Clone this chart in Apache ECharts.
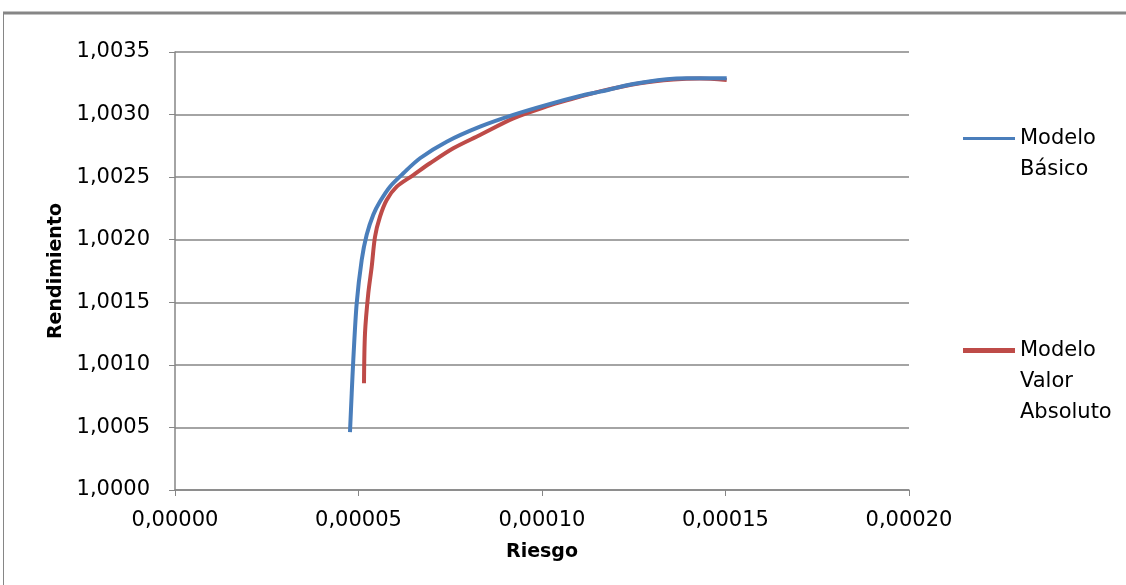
<!DOCTYPE html>
<html>
<head>
<meta charset="utf-8">
<script src="https://cdn.jsdelivr.net/npm/echarts@6/dist/echarts.min.js"></script>
<style>
html,body{margin:0;padding:0;background:#fff;}
#chart{width:1126px;height:585px;}
</style>
</head>
<body>
<div id="chart"></div>
<script>
// Riesgo (x) values and Rendimiento (y) values
const basicoRiesgo = [0.00004768, 0.00004815, 0.00004858, 0.00004951, 0.00005087, 0.00005223, 0.00005403, 0.00005586, 0.00005858, 0.00006221, 0.00006676, 0.00007403, 0.00008311, 0.00009218, 0.00010128, 0.00011035, 0.00011580, 0.00012488, 0.00013398, 0.00013943, 0.00015033];
const basicoRend   = [1.000463, 1.000773, 1.001039, 1.001492, 1.001838, 1.002040, 1.002200, 1.002305, 1.002424, 1.002531, 1.002651, 1.002783, 1.002903, 1.002997, 1.003077, 1.003148, 1.003183, 1.003244, 1.003282, 1.003290, 1.003290];
const absolutoRiesgo = [0.00005150, 0.00005177, 0.00005267, 0.00005360, 0.00005450, 0.00005586, 0.00005768, 0.00006041, 0.00006493, 0.00006948, 0.00007583, 0.00008311, 0.00009218, 0.00010128, 0.00010673, 0.00011580, 0.00012670, 0.00013578, 0.00014305, 0.00015033];
const absolutoRend   = [1.000853, 1.001252, 1.001572, 1.001784, 1.002024, 1.002184, 1.002317, 1.002424, 1.002517, 1.002611, 1.002731, 1.002837, 1.002970, 1.003065, 1.003113, 1.003185, 1.003250, 1.003280, 1.003288, 1.003276];
const seriesNames = ['Modelo\nBásico', 'Modelo\nValor\nAbsoluto'];
const xTicks = {min: 0, max: 0.0002, interval: 0.00005};
const yTicks = {min: 1.0000, max: 1.0035, interval: 0.0005};

function zip(a, b) { return a.map((v, i) => [v, b[i]]); }

const chart = echarts.init(document.getElementById('chart'), null, {renderer: 'canvas'});
const font = 'DejaVu Sans';
const legendText = {fontFamily: font, fontSize: 21, color: '#000', lineHeight: 31};
chart.setOption({
  animation: false,
  backgroundColor: '#ffffff',
  graphic: [
    {type: 'line', shape: {x1: 3, y1: 13, x2: 1126, y2: 13}, style: {stroke: '#868686', lineWidth: 3}},
    {type: 'line', shape: {x1: 3.5, y1: 13, x2: 3.5, y2: 585}, style: {stroke: '#868686', lineWidth: 1}}
  ],
  grid: {left: 175, right: 217, top: 52, bottom: 95},
  legend: [
    {
      data: [seriesNames[0]], left: 963, top: 92, orient: 'vertical', padding: 0,
      itemWidth: 52, itemHeight: 28, itemGap: 5,
      icon: 'path://M0,0 L52,0 L52,3 L0,3 Z',
      formatter: name => ' \n' + name,
      textStyle: legendText
    },
    {
      data: [seriesNames[1]], left: 963, top: 273, orient: 'vertical', padding: 0,
      itemWidth: 52, itemHeight: 28, itemGap: 5,
      icon: 'path://M0,0 L52,0 L52,5 L0,5 Z',
      formatter: name => ' \n \n' + name,
      textStyle: legendText
    }
  ],
  xAxis: {
    type: 'value', min: xTicks.min, max: xTicks.max, interval: xTicks.interval,
    name: 'Riesgo', nameLocation: 'middle', nameGap: 53,
    nameTextStyle: {fontFamily: font, fontSize: 19, fontWeight: 'bold', color: '#000'},
    axisLine: {show: true, lineStyle: {color: '#868686', width: 1.5}},
    axisTick: {show: true, length: 6, lineStyle: {color: '#868686'}},
    splitLine: {show: false},
    axisLabel: {
      fontFamily: font, fontSize: 21, color: '#000', margin: 20,
      formatter: v => v.toFixed(5).replace('.', ',')
    }
  },
  yAxis: {
    type: 'value', min: yTicks.min, max: yTicks.max, interval: yTicks.interval,
    name: 'Rendimiento', nameLocation: 'middle', nameGap: 100,
    nameTextStyle: {fontFamily: font, fontSize: 19, fontWeight: 'bold', color: '#000'},
    axisLine: {show: true, lineStyle: {color: '#868686', width: 1.5}},
    axisTick: {show: true, inside: false, length: 6, lineStyle: {color: '#868686'}},
    splitLine: {show: true, lineStyle: {color: '#868686', width: 1.5}},
    axisLabel: {
      fontFamily: font, fontSize: 21, color: '#000', margin: 25,
      formatter: v => v.toFixed(4).replace('.', ',')
    }
  },
  series: [
    {
      name: seriesNames[0], type: 'line', data: zip(basicoRiesgo, basicoRend),
      showSymbol: false, smooth: 0.3, color: '#4A7EBB',
      lineStyle: {width: 4, color: '#4A7EBB'}, z: 3
    },
    {
      name: seriesNames[1], type: 'line', data: zip(absolutoRiesgo, absolutoRend),
      showSymbol: false, smooth: 0.3, color: '#BE4B48',
      lineStyle: {width: 4, color: '#BE4B48'}, z: 2
    }
  ]
});
</script>
</body>
</html>
